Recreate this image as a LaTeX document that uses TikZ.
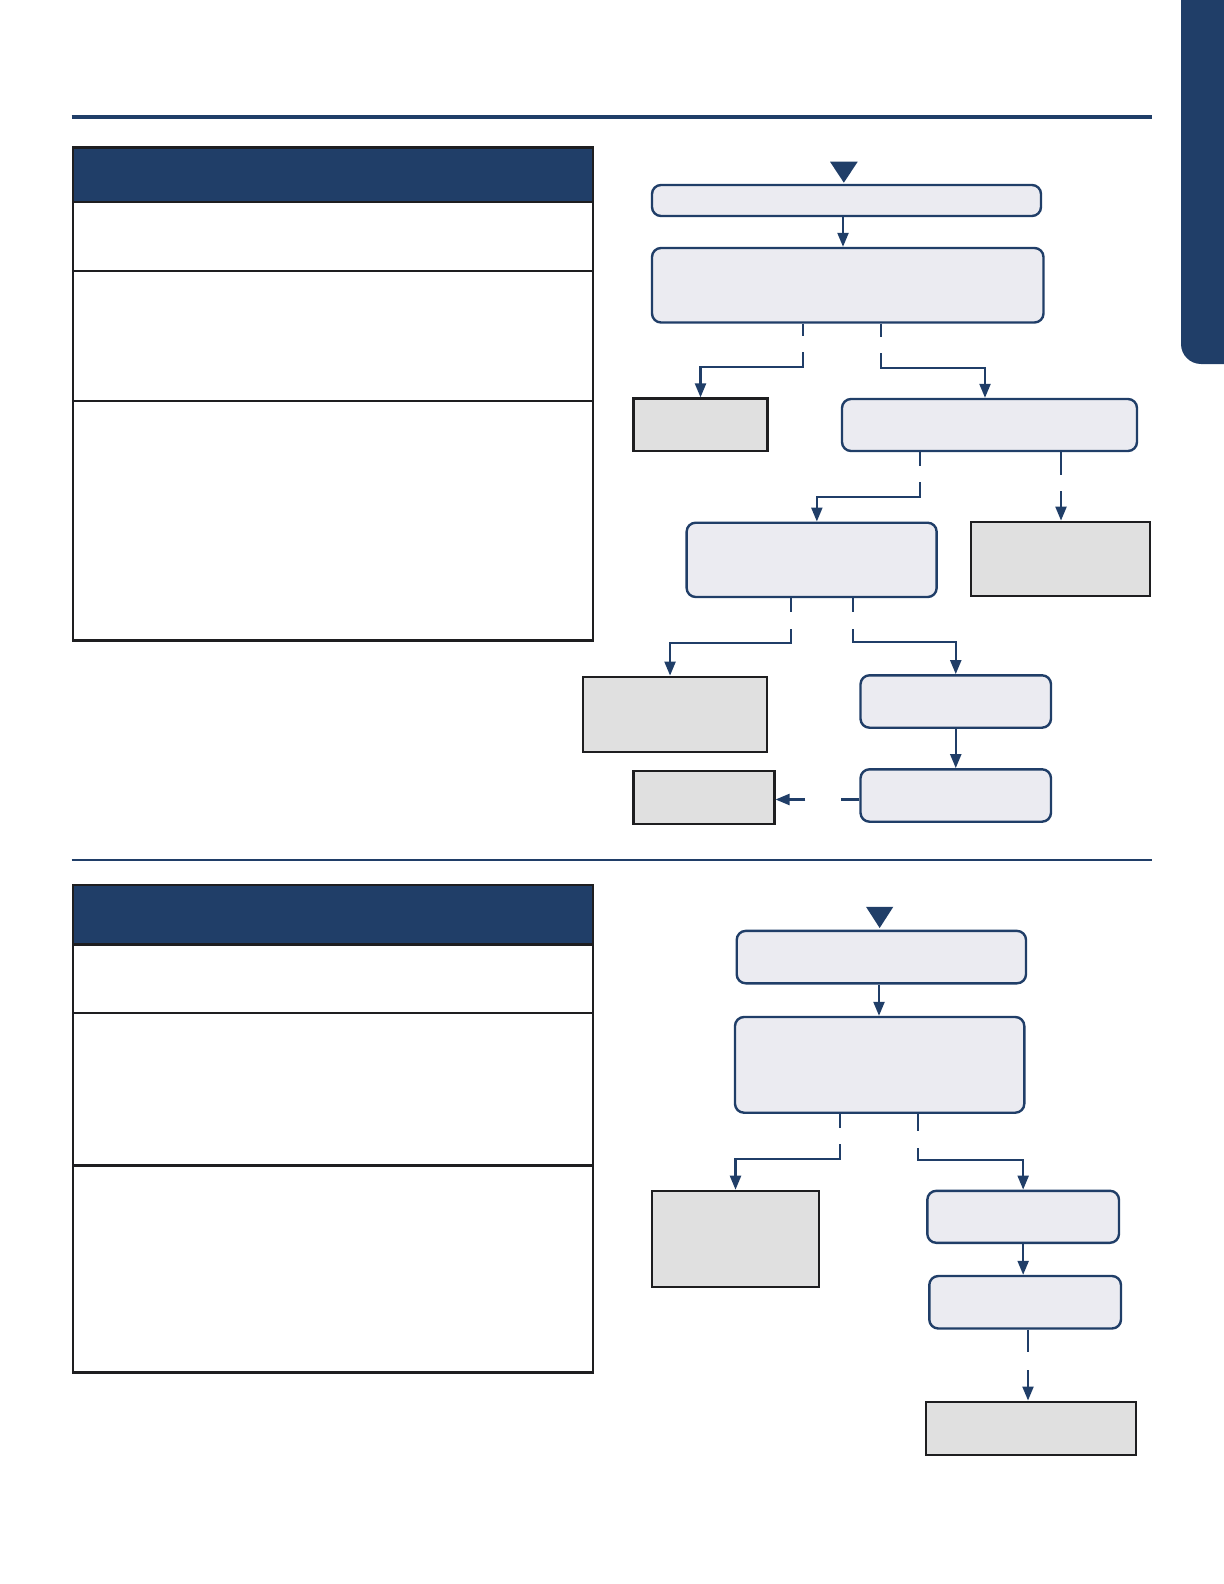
\documentclass[tikz,border=0pt]{standalone}
\usepackage{tikz}
\usetikzlibrary{arrows.meta}
\usepackage{xcolor}

\definecolor{navy}{RGB}{32,62,104}
\definecolor{boxfill}{RGB}{235,235,241}
\definecolor{endfill}{RGB}{224,224,224}
\definecolor{ink}{RGB}{30,30,32}

\begin{document}
\begin{tikzpicture}[x=0.5pt,y=-0.5pt]

    % --- Global Settings ---
    \tikzset{
        flowbox/.style={draw=navy, line width=1.2pt, fill=boxfill, rounded corners=4.5pt, inner sep=0pt},
        endbox/.style={draw=ink, line width=1.1pt, fill=endfill, inner sep=0pt},
        linkstyle/.style={draw=navy, line width=1.1pt},
        arrowstyle/.style={linkstyle, -{Triangle[width=5.5pt,length=7pt]}},
        tableline/.style={draw=ink, line width=1.2pt}
    }

    \useasboundingbox (0,0) rectangle (1224,1584);
    \clip (0,0) rectangle (1224,1584);

    % --- Page furniture ---
    \fill[navy, rounded corners=10pt] (1181,-40) rectangle (1270,364);
    \draw[navy, line width=2pt] (71.7,117.5) -- (1152,117.5);
    \draw[navy, line width=1pt] (71.7,860.4) -- (1152,860.4);

    % --- Panel 1: table ---
    \begin{scope}
        \fill[navy] (72.7,147.4) rectangle (592.8,202);
        \draw[tableline] (72.7,147.4) rectangle (592.8,640.3);
        \foreach \y in {202,270.7,401} {
            \draw[tableline] (72.7,\y) -- (592.8,\y);
        }
    \end{scope}

    % --- Panel 1: flowchart ---
    \begin{scope}
        \fill[navy] (830,161.7) -- (857.7,161.7) -- (843.85,182.7) -- cycle;

        \node[flowbox, minimum width=194.5pt, minimum height=15.5pt] (A) at (846.5,200.5) {};
        \node[flowbox, minimum width=195.75pt, minimum height=37.25pt] (B) at (847.75,285.25) {};
        \node[endbox, minimum width=67pt, minimum height=26.25pt] (C) at (700.5,424.75) {};
        \node[flowbox, minimum width=147.5pt, minimum height=26pt] (D) at (989.5,425) {};
        \node[flowbox, minimum width=125pt, minimum height=37.15pt] (E) at (811.65,559.85) {};
        \node[endbox, minimum width=89.75pt, minimum height=37pt] (F) at (1060.45,558.7) {};
        \node[endbox, minimum width=92.25pt, minimum height=37.65pt] (G) at (674.85,714.35) {};
        \node[flowbox, minimum width=95.25pt, minimum height=26.2pt] (H) at (955.75,701.5) {};
        \node[flowbox, minimum width=95.25pt, minimum height=26.2pt] (I) at (955.75,795.5) {};
        \node[endbox, minimum width=70.45pt, minimum height=26.5pt] (J) at (703.95,797.5) {};

        % gaps in the branches are kept open
        \coordinate (bl) at (803,352);
        \coordinate (br) at (881,353);
        \coordinate (dl) at (920,482);
        \coordinate (dr) at (1061,491);
        \coordinate (el) at (791,629);
        \coordinate (er) at (853,629);
        \coordinate (ij) at ([xshift=-27pt,yshift=-2pt]I.west);

        \draw[arrowstyle] ([xshift=-1.75pt]A.south) -- ([xshift=-1.75pt]A.south |- B.north);

        \draw[linkstyle] (B.south -| bl) -- ++(0,12);
        \draw[arrowstyle] (bl) -- ++(0,15) -| (C.north);
        \draw[linkstyle] (B.south -| br) -- ++(0,13);
        \draw[arrowstyle] (br) -- ++(0,15) -| ([xshift=-2.25pt]D.north);

        \draw[linkstyle] (D.south -| dl) -- ++(0,14);
        \draw[arrowstyle] (dl) -- ++(0,15) -| ([xshift=2.6pt]E.north);
        \draw[linkstyle] (D.south -| dr) -- ++(0,23);
        \draw[arrowstyle] (dr) -- (dr |- F.north);

        \draw[linkstyle] (E.south -| el) -- ++(0,14);
        \draw[arrowstyle] (el) -- ++(0,14) -| ([xshift=-2.4pt]G.north);
        \draw[linkstyle] (E.south -| er) -- ++(0,14);
        \draw[arrowstyle] (er) -- ++(0,13) -| (H.north);

        \draw[arrowstyle] (H) -- (I);

        \draw[linkstyle] ([yshift=-2pt]I.west) -- ++(-18,0);
        \draw[arrowstyle] (ij) -- (ij -| J.east);
    \end{scope}

    % --- Panel 2: table ---
    \begin{scope}
        \fill[navy] (72.7,884.7) rectangle (592.8,944.3);
        \draw[tableline] (72.7,884.7) rectangle (592.8,1372.5);
        \foreach \y in {944.3,1013,1165.4} {
            \draw[tableline] (72.7,\y) -- (592.8,\y);
        }
    \end{scope}

    % --- Panel 2: flowchart ---
    \begin{scope}
        \fill[navy] (866,906.8) -- (893.3,906.8) -- (879.65,928) -- cycle;

        \node[flowbox, minimum width=144.65pt, minimum height=26.2pt] (K) at (881.35,957.1) {};
        \node[flowbox, minimum width=144.65pt, minimum height=47.85pt] (L) at (879.65,1064.85) {};
        \node[endbox, minimum width=83.8pt, minimum height=48pt] (M) at (735.5,1238.8) {};
        \node[flowbox, minimum width=95.85pt, minimum height=26pt] (N) at (1023.15,1216.8) {};
        \node[flowbox, minimum width=95.85pt, minimum height=26.25pt] (O) at (1025.15,1302.25) {};
        \node[endbox, minimum width=105.15pt, minimum height=26.6pt] (P) at (1030.85,1428.2) {};

        \coordinate (ll) at (840,1144);
        \coordinate (lr) at (918,1148);
        \coordinate (op) at (1028,1370);

        \draw[arrowstyle] (K.south -| 879,0) -- (L.north -| 879,0);

        \draw[linkstyle] (L.south -| ll) -- ++(0,14);
        \draw[arrowstyle] (ll) -- ++(0,15) -| (M.north);
        \draw[linkstyle] (L.south -| lr) -- ++(0,17);
        \draw[arrowstyle] (lr) -- ++(0,12) -| (N.north);

        \draw[arrowstyle] (N.south) -- (N.south |- O.north);

        \draw[linkstyle] (O.south -| op) -- ++(0,22);
        \draw[arrowstyle] (op) -- (op |- P.north);
    \end{scope}

\end{tikzpicture}
\end{document}
